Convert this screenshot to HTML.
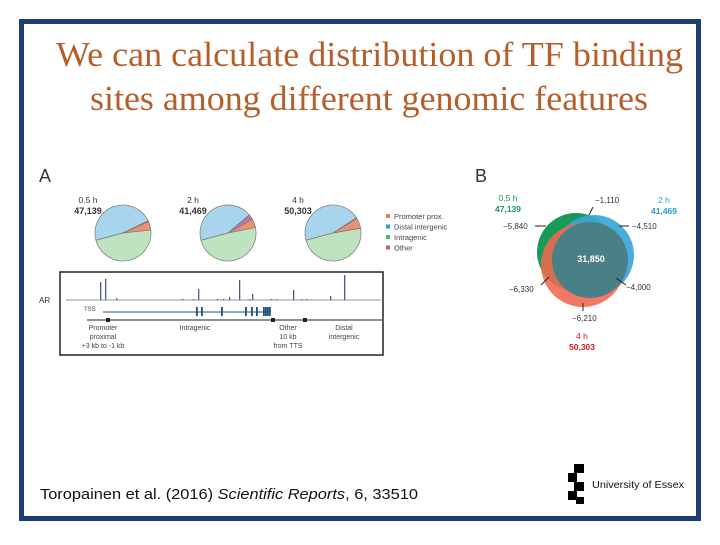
<!DOCTYPE html>
<html><head><meta charset="utf-8"><style>
body{margin:0;background:#fff;}
svg text{font-family:"Liberation Sans",Arial,sans-serif;}
</style></head><body>
<svg width="720" height="540" viewBox="0 0 720 540" xmlns="http://www.w3.org/2000/svg">
<rect x="21.5" y="21.5" width="677" height="497" fill="#fff" stroke="#1f3d73" stroke-width="5"/>
<text x="56" y="66" textLength="627" lengthAdjust="spacingAndGlyphs" style="font-family:'Liberation Serif',serif" font-size="35" fill="#b45f2a">We can calculate distribution of TF binding</text>
<text x="90" y="110" textLength="558" lengthAdjust="spacingAndGlyphs" style="font-family:'Liberation Serif',serif" font-size="35" fill="#b45f2a">sites among different genomic features</text>

<text x="39" y="182" font-size="18" fill="#333">A</text>
<text x="475" y="182" font-size="18" fill="#333">B</text>
<g id="pies"></g>
<g id="legend"></g>

<rect x="60" y="272" width="323" height="83" fill="#fff" stroke="#222" stroke-width="1.5"/>
<text x="39" y="303" font-size="8" fill="#333">AR</text>
<line x1="66" y1="300" x2="381" y2="300" stroke="#aaa" stroke-width="1.2"/>
<g id="peaks"></g>
<text x="84" y="311" font-size="6" fill="#444">TSS</text>
<line x1="103" y1="312" x2="271" y2="312" stroke="#1f4f80" stroke-width="1"/>
<g id="exons"></g>
<line x1="87" y1="320" x2="382" y2="320" stroke="#222" stroke-width="1"/>
<rect x="106" y="318" width="4" height="4" fill="#222"/><rect x="271" y="318" width="4" height="4" fill="#222"/><rect x="303" y="318" width="4" height="4" fill="#222"/>
<g font-size="7" fill="#444" text-anchor="middle">
<text x="103" y="330">Promoter</text><text x="103" y="339">proximal</text><text x="103" y="348">+3 kb to -1 kb</text>
<text x="195" y="330">Intragenic</text>
<text x="288" y="330">Other</text><text x="288" y="339">10 kb</text><text x="288" y="348">from TTS</text>
<text x="344" y="330">Distal</text><text x="344" y="339">intergenic</text>
</g>

<g>
<circle cx="576" cy="252" r="39" fill="#1a9a58"/>
<circle cx="594" cy="255" r="40" fill="#3aa6d6" fill-opacity="0.92"/>
<circle cx="583" cy="265" r="42" fill="#f0684e" fill-opacity="0.88"/>
<circle cx="590" cy="260" r="38" fill="#4a7f86"/>
<text x="591" y="262" text-anchor="middle" font-size="9" font-weight="bold" fill="#fff">31,850</text>
</g>
<g font-size="8" fill="#333">
<text x="595" y="203">−1,110</text><line x1="593" y1="207" x2="589" y2="215" stroke="#222"/>
<text x="503" y="229">−5,840</text><line x1="535" y1="226" x2="546" y2="226" stroke="#222"/>
<text x="632" y="229">−4,510</text><line x1="619" y1="226" x2="629" y2="226" stroke="#222"/>
<text x="509" y="292">−6,330</text><line x1="541" y1="285" x2="549" y2="277" stroke="#222"/>
<text x="626" y="290">−4,000</text><line x1="616" y1="278" x2="626" y2="285" stroke="#222"/>
<text x="572" y="321">−6,210</text><line x1="583" y1="303" x2="583" y2="311" stroke="#222"/>
</g>
<g font-size="8.5" text-anchor="middle">
<text x="508" y="201" fill="#1a9a58">0.5 h</text><text x="508" y="212" fill="#1a9a58" font-weight="bold">47,139</text>
<text x="664" y="203" fill="#2a9bd0">2 h</text><text x="664" y="214" fill="#2a9bd0" font-weight="bold">41,469</text>
<text x="582" y="339" fill="#d02020">4 h</text><text x="582" y="350" fill="#d02020" font-weight="bold">50,303</text>
</g>

<text x="40" y="499" font-size="15" textLength="378" lengthAdjust="spacingAndGlyphs" fill="#111">Toropainen et al. (2016) <tspan font-style="italic">Scientific Reports</tspan>, 6, 33510</text>
<g>
<rect x="574" y="464" width="10" height="9" fill="#000"/><rect x="568" y="473" width="9" height="9" fill="#000"/>
<rect x="574" y="482" width="10" height="9" fill="#000"/><rect x="568" y="491" width="9" height="9" fill="#000"/>
<rect x="576" y="497" width="8" height="7" fill="#000"/>
<text x="592" y="488" font-size="10.5" textLength="92" lengthAdjust="spacingAndGlyphs" fill="#111">University of Essex</text>
</g>
</svg>
<script>
const pieLabels=["0.5 h","2 h","4 h"];
const pieTotals=["47,139","41,469","50,303"];
const catNames=["Distal intergenic","Other","Promoter prox.","Intragenic"];
const catColors=["#a9d4ee","#b77aa8","#ef8f72","#bfe3bf"];
const pieFracs=[[0.47,0.005,0.05,0.475],[0.43,0.03,0.05,0.49],[0.45,0.005,0.06,0.485]];
const peakPos=[100,105,116,182,193,198,217,223,229,239,249,252,271,276,293,301,306,330,344];
const peakH=[18,21,2,1,1,11,1,1,3,20,1,6,1,1,10,1,1,4,25];
const exonPos=[196,201,221,245,251,256,263,265,267,269];
const NS="http://www.w3.org/2000/svg";
const pg=document.getElementById('pies');
const pcx=[123,228,333],pcy=233,R=28;
pieFracs.forEach((fr,i)=>{
 let a=195*Math.PI/180;
 fr.forEach((f,j)=>{
  const a2=a-f*2*Math.PI;
  const x1=pcx[i]+R*Math.cos(a),y1=pcy-R*Math.sin(a),x2=pcx[i]+R*Math.cos(a2),y2=pcy-R*Math.sin(a2);
  const p=document.createElementNS(NS,'path');
  p.setAttribute('d',`M${pcx[i]},${pcy} L${x1},${y1} A${R},${R} 0 ${f>0.5?1:0} 1 ${x2},${y2} Z`);
  p.setAttribute('fill',catColors[j]);p.setAttribute('stroke','#777');p.setAttribute('stroke-width','0.7');
  
  
  pg.appendChild(p);a=a2;
 });
 const t1=document.createElementNS(NS,'text');t1.setAttribute('x',pcx[i]-35);t1.setAttribute('y',203);t1.setAttribute('font-size','8.5');t1.setAttribute('fill','#333');t1.setAttribute('text-anchor','middle');t1.textContent=pieLabels[i];
 
 
 pg.appendChild(t1);
 const t2=document.createElementNS(NS,'text');t2.setAttribute('x',pcx[i]-35);t2.setAttribute('y',214);t2.setAttribute('font-size','9');t2.setAttribute('font-weight','bold');t2.setAttribute('fill','#333');t2.setAttribute('text-anchor','middle');t2.textContent=pieTotals[i];
 
 
 pg.appendChild(t2);
});
const lg=document.getElementById('legend');
const legOrder=[2,0,3,1];
const legSw=['#ef7a60','#2aa0cc','#4cb86a','#b060a0'];
legOrder.forEach((j,k)=>{
 const r=document.createElementNS(NS,'rect');r.setAttribute('x',386);r.setAttribute('y',214+k*10.5);r.setAttribute('width',4);r.setAttribute('height',4);r.setAttribute('fill',legSw[k]);
 
 
 lg.appendChild(r);
 const t=document.createElementNS(NS,'text');t.setAttribute('x',394);t.setAttribute('y',219+k*10.5);t.setAttribute('font-size','7.5');t.setAttribute('fill','#444');t.textContent=catNames[j];
 
 
 lg.appendChild(t);
});
const pk=document.getElementById('peaks');
peakPos.forEach((x,i)=>{
 const l=document.createElementNS(NS,'rect');l.setAttribute('x',x);l.setAttribute('y',300-peakH[i]);l.setAttribute('width',1.3);l.setAttribute('height',peakH[i]);l.setAttribute('fill','#4a5a8a');
 
 
 pk.appendChild(l);
});
const ex=document.getElementById('exons');
exonPos.forEach(x=>{
 const r=document.createElementNS(NS,'rect');r.setAttribute('x',x);r.setAttribute('y',307);r.setAttribute('width',1.8);r.setAttribute('height',9);r.setAttribute('fill','#1f4f80');
 
 
 ex.appendChild(r);
});
</script>
</body></html>
